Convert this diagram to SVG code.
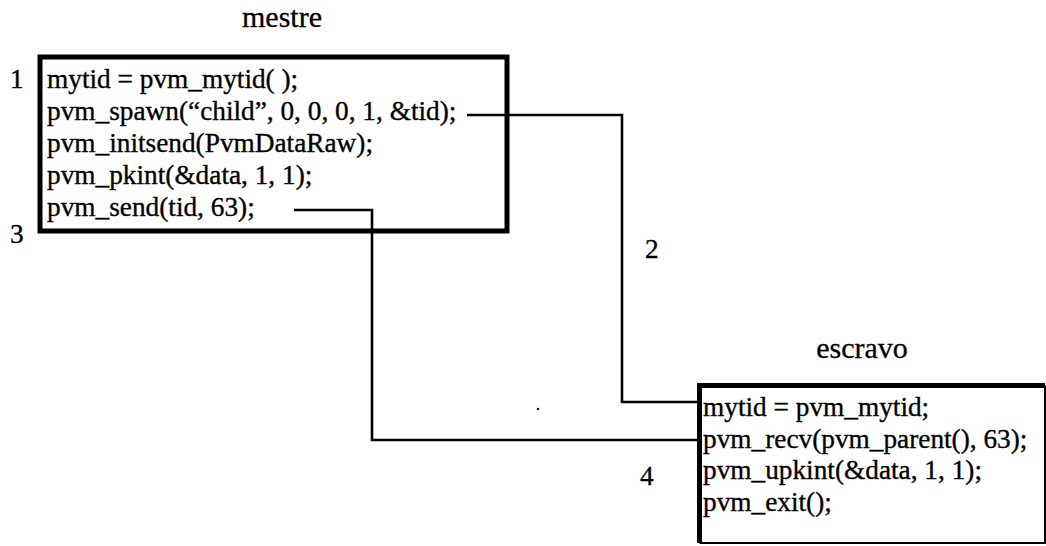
<svg xmlns="http://www.w3.org/2000/svg" width="1046" height="546" viewBox="0 0 1046 546">
  <style>
    .t { font-family: "Liberation Serif", "Times New Roman", serif; font-size: 27.3px; fill: #000; stroke: #000; stroke-width: 0.35; }
    .lbl { font-family: "Liberation Serif", "Times New Roman", serif; font-size: 30px; fill: #000; stroke: #000; stroke-width: 0.3; }
    .wire { fill: none; stroke: #000; stroke-width: 2.6; }
  </style>
  <rect width="1046" height="546" fill="#fff"/>

  <!-- master process -->
  <g id="mestre">
    <text class="lbl" x="282" y="27" text-anchor="middle">mestre</text>
    <rect x="40" y="57" width="467" height="174" fill="none" stroke="#000" stroke-width="5"/>
    <text class="t" x="47" y="88">mytid = pvm_mytid( );</text>
    <text class="t" x="47" y="120">pvm_spawn(“child”, 0, 0, 0, 1, &amp;tid);</text>
    <text class="t" x="47" y="152">pvm_initsend(PvmDataRaw);</text>
    <text class="t" x="47" y="184">pvm_pkint(&amp;data, 1, 1);</text>
    <text class="t" x="47" y="216">pvm_send(tid, 63);</text>
  </g>

  <!-- slave process -->
  <g id="escravo">
    <text class="lbl" x="862" y="358" text-anchor="middle">escravo</text>
    <path d="M699.5 543 V385.5 H1045" fill="none" stroke="#000" stroke-width="5"/>
    <path d="M1045 385.5 V543 H699.5" fill="none" stroke="#000" stroke-width="2"/>
    <text class="t" x="703" y="416">mytid = pvm_mytid;</text>
    <text class="t" x="703" y="448">pvm_recv(pvm_parent(), 63);</text>
    <text class="t" x="703" y="479">pvm_upkint(&amp;data, 1, 1);</text>
    <text class="t" x="703" y="511">pvm_exit();</text>
  </g>

  <!-- step numbers -->
  <g id="steps">
    <text class="t" x="10" y="88">1</text>
    <text class="t" x="10" y="243">3</text>
    <text class="t" x="645" y="258">2</text>
    <text class="t" x="640" y="485">4</text>
  </g>

  <!-- message connectors -->
  <g id="connectors">
    <path class="wire" d="M467 115 H622 V402 H698"/>
    <path class="wire" d="M294 210 H372 V440 H698"/>
  </g>

  <circle cx="538" cy="409" r="1.2" fill="#000"/>
</svg>
